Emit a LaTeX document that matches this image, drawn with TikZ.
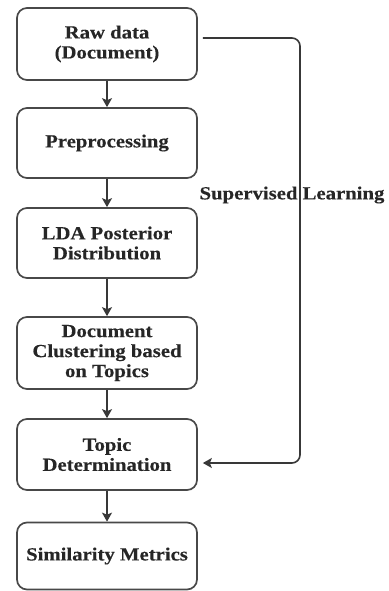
\documentclass[tikz,border=0pt]{standalone}
\usepackage{fontspec}
\setmainfont{Liberation Serif}[FakeStretch=1.12, BoldFeatures={FakeBold=0.3}]
\usetikzlibrary{arrows.meta,calc}
\definecolor{linegray}{HTML}{383838}
\definecolor{boxgray}{HTML}{484848}
\tikzset{
  stepbox/.style={draw=boxgray, line width=1.7pt, rounded corners=10pt,
    minimum width=180pt, align=center, inner sep=2pt,
    font=\fontsize{18.5}{20}\selectfont\bfseries, text=black!85},
  flow/.style={draw=linegray, line width=1.6pt, -{Stealth[length=9pt,width=10pt,inset=2pt]}},
  lbl/.style={font=\fontsize{18.5}{20}\selectfont\bfseries, text=black!85, inner sep=0pt}
}
\begin{document}
\begin{tikzpicture}[x=1pt,y=-1pt]
\useasboundingbox (0,0) rectangle (388,591);
\node[stepbox, minimum height=72pt] (b1) at (107,44) {Raw data\\(Document)};
\node[stepbox, minimum height=70pt] (b2) at (107,143) {Preprocessing};
\node[stepbox, minimum height=70pt] (b3) at (107,243) {LDA Posterior\\Distribution};
\node[stepbox, minimum height=72pt] (b4) at (107,353) {Document\\Clustering based\\on Topics};
\node[stepbox, minimum height=71pt] (b5) at (107,454.5) {Topic\\Determination};
\node[stepbox, minimum height=67pt] (b6) at (107,556) {Similarity Metrics};
\draw[flow] (b1) -- (b2);
\draw[flow] (b2) -- (b3);
\draw[flow] (b3) -- (b4);
\draw[flow] (b4) -- (b5);
\draw[flow] (b5) -- (b6);
\coordinate (r) at (300,200);
\coordinate (s1) at ([xshift=5pt,yshift=6pt]b1.east);
\coordinate (s2) at ([xshift=5pt,yshift=-8.5pt]b5.east);
\draw[flow, rounded corners=8pt] (s1) -| (r) |- (s2);
\node[lbl] (sl) at (292,195) {Supervised Learning};
\end{tikzpicture}
\end{document}
